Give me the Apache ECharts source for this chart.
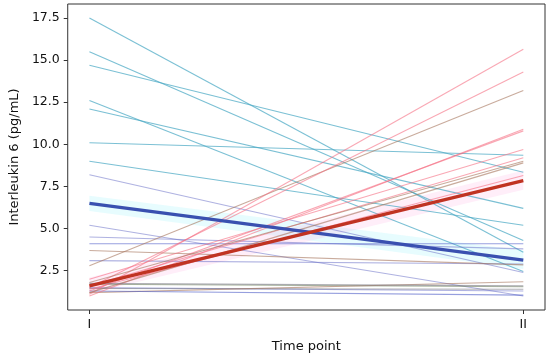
<!DOCTYPE html>
<html>
<head>
<meta charset="utf-8">
<script src="https://cdn.jsdelivr.net/npm/echarts@6/dist/echarts.min.js"></script>
<style>html,body{margin:0;padding:0;background:#fff}#c{width:550px;height:358px}</style>
</head>
<body>
<div id="c"></div>
<script>
// Time points (x positions 0 and 1) and their labels
var timePoints = [0, 1];
var xTickLabels = ['I', 'II'];
var yTicks = [2.5, 5.0, 7.5, 10.0, 12.5, 15.0, 17.5];

// Individual subjects: value at time point I and II
var valuesI  = [17.5, 15.5, 14.7, 12.6, 12.1, 10.1, 9.0, 8.2, 5.2, 4.5, 4.1, 3.1, 3.7,
                1.5, 1.45, 1.7, 1.2, 1.3,
                2.8, 1.1, 1.5, 1.0, 1.3, 2.0, 1.6, 1.8, 1.2, 1.4, 1.75];
var valuesII = [3.6, 4.3, 8.35, 2.45, 6.2, 9.35, 5.2, 2.4, 1.0, 3.8, 4.1, 2.9, 2.85,
                1.3, 1.4, 1.55, 1.85, 1.05,
                13.2, 15.65, 14.3, 10.9, 10.8, 9.7, 9.2, 9.0, 8.9, 8.15, 1.6];
var lineGroup = ['teal','teal','teal','teal','teal','teal','teal','lav','lav','lav','blue','lav','brown',
                 'lav','gray','green','brown','blue',
                 'brown','pink','pink','pink','pink','pink','pink','brown','brown','pink','gray'];

// Group mean trajectories
var meanDecrease = [6.5, 3.13];
var meanIncrease = [1.6, 7.85];
// Faint uncertainty bands [low, high] at I and II
var bandDecLow = [6.05, 2.6], bandDecHigh = [6.95, 3.7];
var bandIncLow = [1.15, 7.3], bandIncHigh = [2.1, 8.45];

var palette = {
  teal: 'rgba(72,168,196,0.72)',
  lav: 'rgba(110,115,200,0.55)',
  blue: 'rgba(80,95,200,0.6)',
  brown: 'rgba(165,115,90,0.6)',
  pink: 'rgba(245,110,130,0.6)',
  gray: 'rgba(120,120,130,0.6)',
  green: 'rgba(120,140,100,0.6)'
};

function bandSeries(low, high, color) {
  return {
    type: 'custom',
    silent: true,
    z: 1,
    data: [0],
    renderItem: function (params, api) {
      var pts = [];
      for (var i = 0; i < timePoints.length; i++) pts.push(api.coord([timePoints[i], high[i]]));
      for (var j = timePoints.length - 1; j >= 0; j--) pts.push(api.coord([timePoints[j], low[j]]));
      return { type: 'polygon', shape: { points: pts }, style: { fill: color } };
    }
  };
}

var series = [];
series.push(bandSeries(bandDecLow, bandDecHigh, 'rgba(120,240,250,0.18)'));
series.push(bandSeries(bandIncLow, bandIncHigh, 'rgba(255,120,210,0.13)'));
for (var k = 0; k < valuesI.length; k++) {
  series.push({
    type: 'line', silent: true, symbol: 'none', z: 2,
    lineStyle: { width: 1.1, color: palette[lineGroup[k]] },
    data: [[timePoints[0], valuesI[k]], [timePoints[1], valuesII[k]]]
  });
}
series.push({
  type: 'line', silent: true, symbol: 'none', z: 5,
  lineStyle: { width: 3.2, color: '#3a50b0' },
  data: [[timePoints[0], meanDecrease[0]], [timePoints[1], meanDecrease[1]]]
});
series.push({
  type: 'line', silent: true, symbol: 'none', z: 5,
  lineStyle: { width: 3.2, color: '#c03322' },
  data: [[timePoints[0], meanIncrease[0]], [timePoints[1], meanIncrease[1]]]
});

var font = 'DejaVu Sans';
var chart = echarts.init(document.getElementById('c'), null, { renderer: 'canvas' });
chart.setOption({
  animation: false,
  backgroundColor: '#fff',
  grid: { left: 62, right: 5, top: 4, bottom: 45, show: true, borderColor: '#333', borderWidth: 1, backgroundColor: 'transparent' },
  xAxis: {
    type: 'value', min: -0.05, max: 1.05, position: 'bottom',
    name: 'Time point', nameLocation: 'middle', nameGap: 30,
    nameTextStyle: { fontFamily: font, fontSize: 13, color: '#111' },
    axisLine: { show: false, onZero: false },
    splitLine: { show: false },
    axisTick: { show: true, inside: false, length: 4, lineStyle: { color: '#333' }, customValues: timePoints },
    axisLabel: { fontFamily: font, fontSize: 12.5, color: '#111', margin: 8, customValues: timePoints,
      formatter: function (v) { return xTickLabels[Math.round(v)]; } }
  },
  yAxis: {
    type: 'value', min: 0.17, max: 18.33, position: 'left',
    name: 'Interleukin 6 (pg/mL)', nameLocation: 'middle', nameGap: 44,
    nameTextStyle: { fontFamily: font, fontSize: 13, color: '#111' },
    axisLine: { show: false, onZero: false },
    splitLine: { show: false },
    axisTick: { show: true, inside: false, length: 4, lineStyle: { color: '#333' }, customValues: yTicks },
    axisLabel: { fontFamily: font, fontSize: 12.5, color: '#111', margin: 8, customValues: yTicks,
      formatter: function (v) { return v.toFixed(1); } }
  },
  series: series
});
</script>
</body>
</html>
